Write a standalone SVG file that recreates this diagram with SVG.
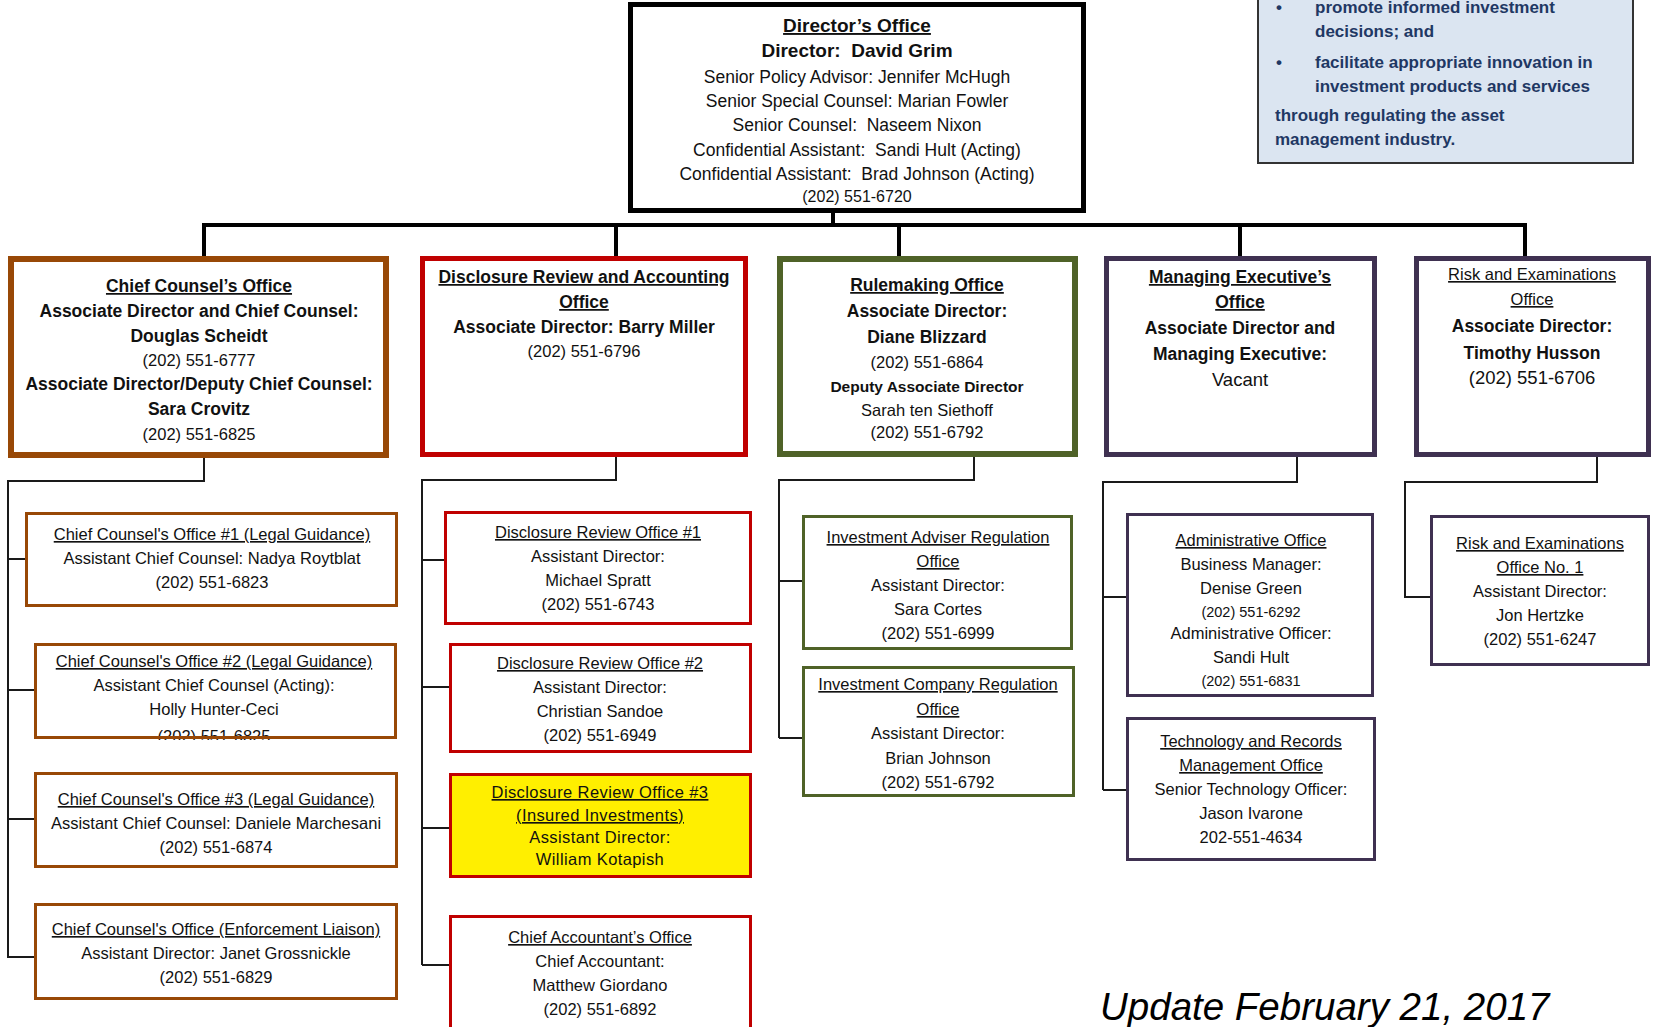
<svg xmlns="http://www.w3.org/2000/svg" width="1655" height="1027" viewBox="0 0 1655 1027">
<style>
text{font-family:"Liberation Sans",Arial,sans-serif;fill:#111;text-anchor:middle}
.pre{white-space:pre}
.b{font-weight:bold}
.u{text-decoration:underline}
.f14{font-size:14.5px}.f155{font-size:15.5px}.f16{font-size:16px}.f165{font-size:16.5px}.f175{font-size:17.5px}.f185{font-size:18.5px}.f19{font-size:19px}
.bus{fill:none;stroke:#000;stroke-width:4}
.con{fill:none;stroke:#1a1a1a;stroke-width:2}
.dir{fill:#fff;stroke:#000;stroke-width:5}
.br2{fill:#fff;stroke:#984806;stroke-width:6}
.rd2{fill:#fff;stroke:#c00000;stroke-width:5}
.gr2{fill:#fff;stroke:#4f6228;stroke-width:6}
.pu2{fill:#fff;stroke:#3f3151;stroke-width:5}
.br3{fill:#fff;stroke:#984806;stroke-width:3}
.rd3{fill:#fff;stroke:#c00000;stroke-width:3}
.yl3{fill:#ffef00;stroke:#c00000;stroke-width:3}
.gr3{fill:#fff;stroke:#4f6228;stroke-width:3}
.pu3{fill:#fff;stroke:#3f3151;stroke-width:3}
.mis rect{fill:#dbe5f1;stroke:#333;stroke-width:2}
.mis text{fill:#1f3864;font-weight:bold;font-size:17px;text-anchor:start}
.upd{font-size:38.5px;font-style:italic;fill:#000;text-anchor:start}
</style>
<defs>
<clipPath id="clipCC2"><rect x="35" y="644" width="362" height="96"/></clipPath>
</defs>

<g id="connectors">
<path class="bus" d="M833,212 V225 M204,257 V225 H1525 V257 M616,225 V257 M899,225 V257 M1240,225 V257"/>
<path class="con" d="M204,458 V481 H8 V958 M8,559 H26 M8,690 H35 M8,819 H35 M8,957 H35"/>
<path class="con" d="M616,457 V480 H422 V965 M422,560 H445 M422,687 H450 M422,828 H450 M422,965 H450"/>
<path class="con" d="M974,457 V480 H779 V738 M779,581 H803 M779,738 H803"/>
<path class="con" d="M1297,456 V482 H1103 V790 M1103,597 H1127 M1103,790 H1127"/>
<path class="con" d="M1597,456 V482 H1405 V597 H1431"/>
</g>

<g id="directors-office">
<rect class="dir" x="630.5" y="4.5" width="453" height="206"/>
<text class="b u f19" x="857" y="32">Director’s Office</text>
<text class="b f19 pre" x="857" y="57">Director:  David Grim</text>
<text class="f175" x="857" y="83">Senior Policy Advisor: Jennifer McHugh</text>
<text class="f175" x="857" y="107">Senior Special Counsel: Marian Fowler</text>
<text class="f175 pre" x="857" y="131">Senior Counsel:  Naseem Nixon</text>
<text class="f175 pre" x="857" y="156">Confidential Assistant:  Sandi Hult (Acting)</text>
<text class="f175 pre" x="857" y="180">Confidential Assistant:  Brad Johnson (Acting)</text>
<text class="f16" x="857" y="202">(202) 551-6720</text>
</g>

<g id="mission" class="mis">
<rect x="1258" y="-10" width="375" height="173"/>
<text x="1276" y="13">•</text>
<text x="1315" y="13">promote informed investment</text>
<text x="1315" y="37">decisions; and</text>
<text x="1276" y="68">•</text>
<text x="1315" y="68">facilitate appropriate innovation in</text>
<text x="1315" y="92">investment products and services</text>
<text x="1275" y="121">through regulating the asset</text>
<text x="1275" y="145">management industry.</text>
</g>

<g id="chief-counsels-office">
<rect class="br2" x="11" y="259" width="375" height="196"/>
<text class="b u f175" x="199" y="292">Chief Counsel’s Office</text>
<text class="b f175" x="199" y="317">Associate Director and Chief Counsel:</text>
<text class="b f175" x="199" y="342">Douglas Scheidt</text>
<text class="f165" x="199" y="366">(202) 551-6777</text>
<text class="b f175" x="199" y="390">Associate Director/Deputy Chief Counsel:</text>
<text class="b f175" x="199" y="415">Sara Crovitz</text>
<text class="f165" x="199" y="440">(202) 551-6825</text>
</g>

<g id="disclosure-review-accounting">
<rect class="rd2" x="422.5" y="258.5" width="323" height="196"/>
<text class="b u f175" x="584" y="283">Disclosure Review and Accounting</text>
<text class="b u f175" x="584" y="308">Office</text>
<text class="b f175" x="584" y="333">Associate Director: Barry Miller</text>
<text class="f165" x="584" y="357">(202) 551-6796</text>
</g>

<g id="rulemaking-office">
<rect class="gr2" x="780" y="259" width="295" height="195"/>
<text class="b u f175" x="927" y="291">Rulemaking Office</text>
<text class="b f175" x="927" y="317">Associate Director:</text>
<text class="b f175" x="927" y="343">Diane Blizzard</text>
<text class="f165" x="927" y="368">(202) 551-6864</text>
<text class="b f155" x="927" y="392">Deputy Associate Director</text>
<text class="f165" x="927" y="416">Sarah ten Siethoff</text>
<text class="f165" x="927" y="438">(202) 551-6792</text>
</g>

<g id="managing-executives-office">
<rect class="pu2" x="1106.5" y="258.5" width="268" height="196"/>
<text class="b u f175" x="1240" y="283">Managing Executive’s</text>
<text class="b u f175" x="1240" y="308">Office</text>
<text class="b f175" x="1240" y="334">Associate Director and</text>
<text class="b f175" x="1240" y="360">Managing Executive:</text>
<text class="f185" x="1240" y="386">Vacant</text>
</g>

<g id="risk-examinations-office">
<rect class="pu2" x="1416.5" y="258.5" width="232" height="196"/>
<text class="u f165" x="1532" y="280">Risk and Examinations</text>
<text class="u f165" x="1532" y="305">Office</text>
<text class="b f175" x="1532" y="332">Associate Director:</text>
<text class="b f175" x="1532" y="359">Timothy Husson</text>
<text class="f185" x="1532" y="384">(202) 551-6706</text>
</g>

<g id="cc-office-1">
<rect class="br3" x="26.5" y="513.5" width="370" height="92"/>
<text class="u f165" x="212" y="540">Chief Counsel's Office #1 (Legal Guidance)</text>
<text class="f165" x="212" y="564">Assistant Chief Counsel: Nadya Roytblat</text>
<text class="f165" x="212" y="588">(202) 551-6823</text>
</g>

<g id="cc-office-2">
<rect class="br3" x="35.5" y="644.5" width="360" height="93"/>
<text class="u f165" x="214" y="667">Chief Counsel's Office #2 (Legal Guidance)</text>
<text class="f165" x="214" y="691">Assistant Chief Counsel (Acting):</text>
<text class="f165" x="214" y="715">Holly Hunter-Ceci</text>
<text class="f165" x="214" y="742" clip-path="url(#clipCC2)">(202) 551-6825</text>
<rect x="35.5" y="644.5" width="360" height="93" fill="none" stroke="#984806" stroke-width="3"/>
</g>

<g id="cc-office-3">
<rect class="br3" x="35.5" y="773.5" width="361" height="93"/>
<text class="u f165" x="216" y="805">Chief Counsel's Office #3 (Legal Guidance)</text>
<text class="f165" x="216" y="829">Assistant Chief Counsel: Daniele Marchesani</text>
<text class="f165" x="216" y="853">(202) 551-6874</text>
</g>

<g id="cc-enforcement-liaison">
<rect class="br3" x="35.5" y="904.5" width="361" height="94"/>
<text class="u f165" x="216" y="935">Chief Counsel's Office (Enforcement Liaison)</text>
<text class="f165" x="216" y="959">Assistant Director: Janet Grossnickle</text>
<text class="f165" x="216" y="983">(202) 551-6829</text>
</g>

<g id="dr-office-1">
<rect class="rd3" x="445.5" y="512.5" width="305" height="111"/>
<text class="u f165" x="598" y="538">Disclosure Review Office #1</text>
<text class="f165" x="598" y="562">Assistant Director:</text>
<text class="f165" x="598" y="586">Michael Spratt</text>
<text class="f165" x="598" y="610">(202) 551-6743</text>
</g>

<g id="dr-office-2">
<rect class="rd3" x="450.5" y="644.5" width="300" height="107"/>
<text class="u f165" x="600" y="669">Disclosure Review Office #2</text>
<text class="f165" x="600" y="693">Assistant Director:</text>
<text class="f165" x="600" y="717">Christian Sandoe</text>
<text class="f165" x="600" y="741">(202) 551-6949</text>
</g>

<g id="dr-office-3">
<rect class="yl3" x="450.5" y="774.5" width="300" height="102"/>
<text class="u f165" x="600" y="798" letter-spacing="0.4">Disclosure Review Office #3</text>
<text class="u f165" x="600" y="821" letter-spacing="0.4">(Insured Investments)</text>
<text class="f165" x="600" y="843" letter-spacing="0.4">Assistant Director:</text>
<text class="f165" x="600" y="865" letter-spacing="0.4">William Kotapish</text>
</g>

<g id="chief-accountants-office">
<rect class="rd3" x="450.5" y="916.5" width="300" height="130"/>
<text class="u f165" x="600" y="943">Chief Accountant’s Office</text>
<text class="f165" x="600" y="967">Chief Accountant:</text>
<text class="f165" x="600" y="991">Matthew Giordano</text>
<text class="f165" x="600" y="1015">(202) 551-6892</text>
</g>

<g id="investment-adviser-regulation">
<rect class="gr3" x="803.5" y="516.5" width="268" height="132"/>
<text class="u f165" x="938" y="543">Investment Adviser Regulation</text>
<text class="u f165" x="938" y="567">Office</text>
<text class="f165" x="938" y="591">Assistant Director:</text>
<text class="f165" x="938" y="615">Sara Cortes</text>
<text class="f165" x="938" y="639">(202) 551-6999</text>
</g>

<g id="investment-company-regulation">
<rect class="gr3" x="803.5" y="667.5" width="270" height="128"/>
<text class="u f165" x="938" y="690">Investment Company Regulation</text>
<text class="u f165" x="938" y="715">Office</text>
<text class="f165" x="938" y="739">Assistant Director:</text>
<text class="f165" x="938" y="764">Brian Johnson</text>
<text class="f165" x="938" y="788">(202) 551-6792</text>
</g>

<g id="administrative-office">
<rect class="pu3" x="1127.5" y="514.5" width="245" height="181"/>
<text class="u f165" x="1251" y="546">Administrative Office</text>
<text class="f165" x="1251" y="570">Business Manager:</text>
<text class="f165" x="1251" y="594">Denise Green</text>
<text class="f14" x="1251" y="617">(202) 551-6292</text>
<text class="f165" x="1251" y="639">Administrative Officer:</text>
<text class="f165" x="1251" y="663">Sandi Hult</text>
<text class="f14" x="1251" y="686">(202) 551-6831</text>
</g>

<g id="technology-records-office">
<rect class="pu3" x="1127.5" y="718.5" width="247" height="141"/>
<text class="u f165" x="1251" y="747">Technology and Records</text>
<text class="u f165" x="1251" y="771">Management Office</text>
<text class="f165" x="1251" y="795">Senior Technology Officer:</text>
<text class="f165" x="1251" y="819">Jason Ivarone</text>
<text class="f165" x="1251" y="843">202-551-4634</text>
</g>

<g id="risk-examinations-office-1">
<rect class="pu3" x="1431.5" y="516.5" width="217" height="148"/>
<text class="u f165" x="1540" y="549">Risk and Examinations</text>
<text class="u f165" x="1540" y="573">Office No. 1</text>
<text class="f165" x="1540" y="597">Assistant Director:</text>
<text class="f165" x="1540" y="621">Jon Hertzke</text>
<text class="f165" x="1540" y="645">(202) 551-6247</text>
</g>

<text class="upd" x="1100" y="1020">Update February 21, 2017</text>
</svg>
